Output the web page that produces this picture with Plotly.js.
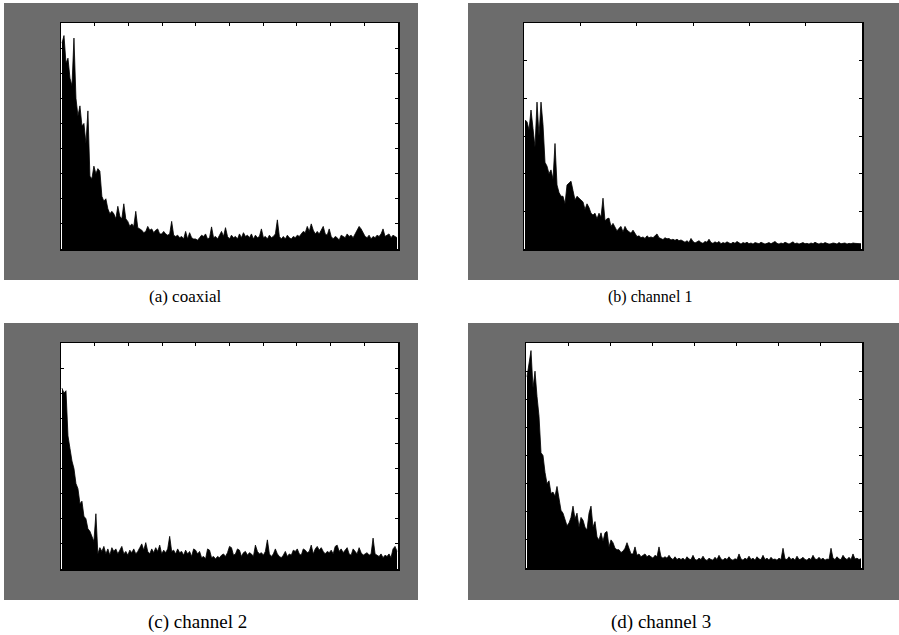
<!DOCTYPE html>
<html>
<head>
<meta charset="utf-8">
<script src="https://cdn.plot.ly/plotly-3.0.1.min.js"></script>
<style>html,body{margin:0;padding:0;background:#fff;}#chart{width:899px;height:635px;}</style>
</head>
<body>
<div id="chart"></div>
<script>
// Panel captions
const captions = ["(a) coaxial", "(b) channel 1", "(c) channel 2", "(d) channel 3"];

// Spectrum magnitudes (in y-tick units), left to right
const coaxial = [8.2,8.5,7.4,7.6,6.8,6.5,8.4,6.0,5.3,5.7,4.9,5.0,4.2,5.5,2.9,2.8,3.3,3.0,3.2,3.1,
  2.1,1.9,2.0,1.6,1.4,1.5,1.4,1.2,1.7,1.3,1.2,1.8,1.2,1.1,0.9,1.0,0.9,1.5,0.85,0.8,
  0.75,0.65,0.7,0.9,0.75,0.8,0.65,0.75,0.8,0.6,0.6,0.7,0.6,0.55,0.6,1.1,0.55,0.5,0.55,0.45,
  0.5,0.4,0.7,0.4,0.65,0.45,0.4,
  0.4,0.35,0.45,0.55,0.5,0.6,0.4,0.45,0.88,0.45,0.5,0.4,0.55,0.7,0.5,0.85,0.5,0.4,0.55,0.45,
  0.5,0.4,0.6,0.45,0.65,0.5,0.55,0.45,0.6,0.4,0.55,0.45,0.5,0.8,0.45,0.5,0.4,0.55,0.45,0.5,
  0.6,1.16,0.5,0.4,0.5,0.4,0.55,0.45,0.4,0.5,0.45,0.55,0.5,0.6,0.7,0.65,0.9,0.7,1.0,0.75,
  0.6,0.7,0.6,0.75,0.9,0.6,0.55,0.8,0.5,0.4,0.5,0.45,0.35,0.55,0.5,0.45,0.6,0.5,0.55,0.45,
  0.6,0.75,0.9,0.8,0.65,0.5,0.45,0.55,0.4,0.5,0.45,0.55,0.5,0.6,0.8,0.5,0.55,0.6,0.45,0.55,
  0.5,0.45];

const channel1 = [3.42,3.38,3.16,3.69,3.2,2.7,3.9,3.0,3.9,3.3,2.3,2.2,2.0,2.1,1.85,2.8,1.7,1.5,1.4,1.4,
  1.2,1.7,1.75,1.8,1.55,1.3,1.4,1.35,1.3,1.25,1.05,1.2,1.1,0.95,0.9,0.95,0.8,0.95,0.85,1.35,
  0.75,0.8,0.82,0.6,0.68,0.58,0.48,0.55,0.6,0.45,0.6,0.5,0.45,0.42,0.5,0.42,0.33,0.35,0.3,0.32,
  0.28,0.35,0.3,0.32,0.3,0.35,0.4,0.3,0.28,0.25,0.3,0.27,0.28,0.24,0.26,0.23,0.26,0.22,0.24,
  0.2,0.18,0.22,0.17,0.28,0.2,0.16,0.19,0.22,0.17,0.15,0.2,0.18,0.26,0.17,0.15,0.19,0.16,0.2,0.14,
  0.17,0.15,0.19,0.16,0.14,0.18,0.15,0.2,0.16,0.13,0.17,0.15,0.18,0.14,0.16,0.13,0.17,0.15,0.14,0.18,
  0.16,0.13,0.15,0.17,0.14,0.16,0.2,0.15,0.13,0.16,0.14,0.18,0.15,0.13,0.16,0.19,0.14,0.16,0.13,0.15,
  0.17,0.14,0.15,0.13,0.16,0.14,0.18,0.15,0.13,0.16,0.14,0.17,0.15,0.13,0.14,0.16,0.15,0.13,0.17,0.14,
  0.15,0.16,0.13,0.15,0.14,0.16,0.15,0.14,0.15,0.14];

const channel2 = [7.2,7.0,7.1,5.3,4.8,4.3,4.0,3.4,3.2,2.6,2.7,2.1,2.0,1.6,1.5,1.3,1.1,2.2,0.6,0.85,
  0.7,0.9,0.6,0.8,0.55,0.85,0.7,0.8,0.6,0.75,0.9,0.6,0.7,0.55,0.75,0.65,0.8,0.6,0.7,0.85,
  1.0,0.75,1.05,0.7,0.6,0.8,0.65,0.85,0.7,0.95,0.6,0.75,0.65,0.8,1.3,0.7,0.75,0.6,0.8,0.65,
  0.7,0.55,0.75,0.6,0.7,0.5,0.8,
  0.75,0.6,0.7,0.45,0.5,0.4,0.8,0.75,0.45,0.5,0.4,0.5,0.45,0.55,0.6,0.5,0.65,0.9,0.85,0.55,
  0.6,0.8,0.75,0.5,0.65,0.7,0.55,0.65,0.6,0.5,0.95,0.7,0.6,0.65,0.55,0.7,1.16,0.6,0.5,0.6,
  0.8,0.6,0.5,0.45,0.55,0.7,0.5,0.6,0.55,0.75,0.7,0.8,0.6,0.55,0.8,0.75,0.65,0.7,0.95,0.6,
  0.8,0.9,0.75,0.85,0.7,0.6,0.7,0.65,0.75,0.6,0.9,0.95,0.7,0.8,0.65,0.75,0.85,0.6,0.55,0.8,
  0.7,0.6,0.85,0.65,0.55,0.6,0.65,0.55,0.6,1.23,0.6,0.55,0.5,0.6,0.45,0.55,0.5,0.6,0.45,0.8,
  0.9,0.7];

const channel3 = [6.8,7.2,7.73,6.4,7.0,6.1,5.4,4.1,4.0,3.4,3.0,3.1,2.65,2.7,2.55,2.9,2.4,2.05,1.95,1.7,
  1.5,1.6,1.8,2.2,1.75,1.95,1.45,1.8,1.7,1.45,1.35,1.95,2.2,1.45,1.65,1.1,1.0,1.25,0.95,1.25,
  1.3,0.75,1.0,0.9,0.7,0.65,0.65,0.55,0.6,0.7,0.9,0.7,0.5,0.5,0.75,0.45,0.5,0.4,0.45,0.5,
  0.4,0.45,0.4,0.35,0.45,0.4,0.75,0.4,0.35,0.4,0.35,0.45,0.35,0.3,0.4,0.3,0.35,
  0.3,0.35,0.28,0.4,0.32,0.3,0.45,0.3,0.28,0.35,0.3,0.42,0.3,0.27,0.35,0.3,0.28,0.38,0.3,0.45,
  0.32,0.28,0.35,0.3,0.4,0.3,0.28,0.33,0.3,0.5,0.32,0.28,0.35,0.3,0.42,0.3,0.35,0.28,0.4,0.32,
  0.3,0.45,0.3,0.35,0.28,0.38,0.3,0.32,0.28,0.35,0.3,0.7,0.32,0.3,0.4,0.3,0.35,0.28,0.42,0.3,
  0.32,0.38,0.3,0.28,0.35,0.3,0.45,0.32,0.3,0.38,0.3,0.35,0.28,0.32,0.3,0.7,0.35,0.3,0.4,0.32,
  0.3,0.45,0.35,0.3,0.38,0.3,0.5,0.32,0.35,0.3,0.33];

const W = 899, H = 635;
// panel geometry in pixels
const panels = [
  {y: coaxial,  xDiv: 10, yDiv: 9, frame: [4, 3, 418, 280],   plot: [61, 23, 398, 249],  cap: [185, 297, 17]},
  {y: channel1, xDiv: 6,  yDiv: 6, frame: [468, 3, 899, 280], plot: [524, 23, 862, 249], cap: [650, 297, 16]},
  {y: channel2, xDiv: 10, yDiv: 9, frame: [4, 323, 418, 600], plot: [61, 343, 398, 569], cap: [197, 622, 19]},
  {y: channel3, xDiv: 8,  yDiv: 8, frame: [468, 323, 899, 600], plot: [526, 343, 862, 568], cap: [661, 622, 19]}
];

const px = v => v / W, py = v => 1 - v / H;
const data = [], shapes = [], annotations = [];
const layout = {
  width: W, height: H, margin: {l: 0, r: 0, t: 0, b: 0},
  paper_bgcolor: '#ffffff', plot_bgcolor: 'rgba(0,0,0,0)', showlegend: false
};

panels.forEach((p, k) => {
  const n = p.y.length;
  const xs = p.y.map((_, i) => i);
  const sfx = k === 0 ? '' : String(k + 1);
  data.push({
    type: 'scatter', mode: 'lines', x: xs, y: p.y,
    xaxis: 'x' + sfx, yaxis: 'y' + sfx,
    line: {color: '#000', width: 0.8}, fill: 'tozeroy', fillcolor: '#000',
    hoverinfo: 'skip'
  });
  const common = {showgrid: false, zeroline: false, showline: true, linecolor: '#000', linewidth: 1.5,
    mirror: 'ticks', ticks: 'inside', ticklen: 3, tickcolor: '#000', showticklabels: false, fixedrange: true};
  layout['xaxis' + sfx] = Object.assign({}, common, {
    domain: [px(p.plot[0]), px(p.plot[2])], anchor: 'y' + sfx,
    range: [-0.5, n - 0.5], tickmode: 'linear', tick0: -0.5, dtick: n / p.xDiv
  });
  layout['yaxis' + sfx] = Object.assign({}, common, {
    domain: [py(p.plot[3]), py(p.plot[1])], anchor: 'x' + sfx,
    range: [0, p.yDiv], tickmode: 'linear', tick0: 0, dtick: 1
  });
  shapes.push({type: 'rect', xref: 'paper', yref: 'paper', layer: 'below',
    x0: px(p.frame[0]), x1: px(p.frame[2]), y0: py(p.frame[3]), y1: py(p.frame[1]),
    fillcolor: '#6c6c6c', line: {width: 0}});
  shapes.push({type: 'rect', xref: 'paper', yref: 'paper', layer: 'below',
    x0: px(p.plot[0]), x1: px(p.plot[2]), y0: py(p.plot[3]), y1: py(p.plot[1]),
    fillcolor: '#ffffff', line: {width: 0}});
  annotations.push({text: captions[k], xref: 'paper', yref: 'paper',
    x: px(p.cap[0]), y: py(p.cap[1]), xanchor: 'center', yanchor: 'middle', showarrow: false,
    font: {family: 'Liberation Serif, Times New Roman, serif', size: p.cap[2], color: '#000'}});
});
layout.shapes = shapes;
layout.annotations = annotations;

Plotly.newPlot('chart', data, layout, {displayModeBar: false, staticPlot: true});
</script>
</body>
</html>
